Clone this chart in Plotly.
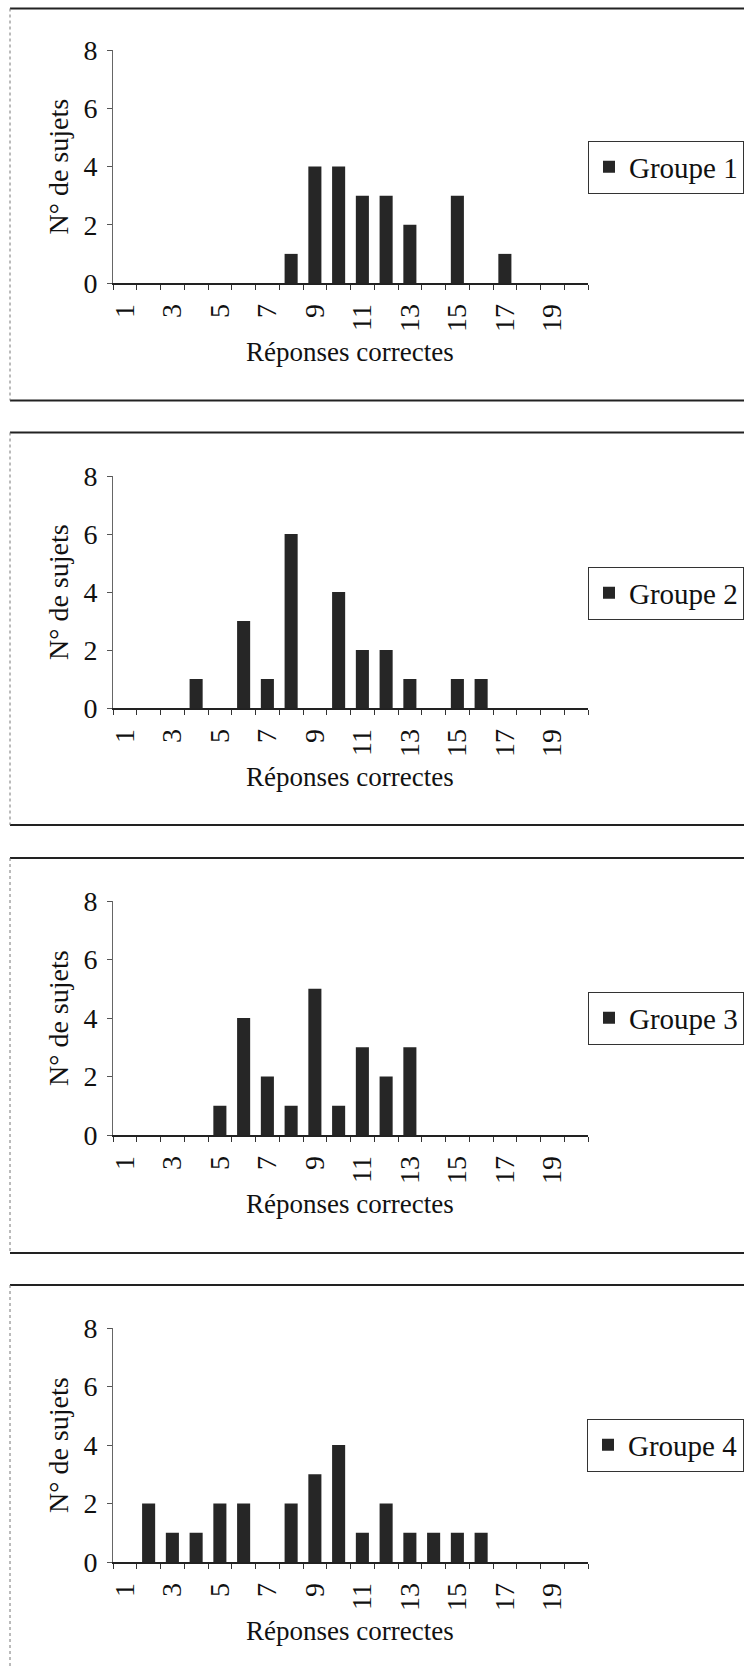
import plotly.graph_objects as go
from plotly.subplots import make_subplots

# nombre de reponses correctes (axe x)
scores = [1, 2, 3, 4, 5, 6, 7, 8, 9, 10, 11, 12, 13, 14, 15, 16, 17, 18, 19, 20]
odd_labels = [1, 3, 5, 7, 9, 11, 13, 15, 17, 19]
y_ticks = [0, 2, 4, 6, 8]

# N° de sujets par groupe
groupe1 = [0, 0, 0, 0, 0, 0, 0, 1, 4, 4, 3, 3, 2, 0, 3, 0, 1, 0, 0, 0]
groupe2 = [0, 0, 0, 1, 0, 3, 1, 6, 0, 4, 2, 2, 1, 0, 1, 1, 0, 0, 0, 0]
groupe3 = [0, 0, 0, 0, 1, 4, 2, 1, 5, 1, 3, 2, 3, 0, 0, 0, 0, 0, 0, 0]
groupe4 = [0, 2, 1, 1, 2, 2, 0, 2, 3, 4, 1, 2, 1, 1, 1, 1, 0, 0, 0, 0]
groups = [groupe1, groupe2, groupe3, groupe4]
names = ["Groupe 1", "Groupe 2", "Groupe 3", "Groupe 4"]

W, H = 744, 1668
FONT = "Liberation Serif, Times New Roman, serif"


def px(x):
    return x / W


def py(y):
    return 1 - y / H


# pixel layout of each panel: (top of plot, axis line, frame top, frame bottom)
panels = [(50, 283, 8.5, 400.5),
          (476, 708, 432.5, 825),
          (901, 1135, 858, 1253),
          (1328, 1562, 1285, 1700)]

fig = make_subplots(rows=4, cols=1)

shapes = []
annotations = []
for i, (vals, name) in enumerate(zip(groups, names)):
    row = i + 1
    y8, y0, ftop, fbot = panels[i]
    leg = "legend" if i == 0 else "legend%d" % row
    fig.add_trace(go.Bar(x=scores, y=vals, name=name, marker_color="#262626",
                         marker_line_width=0, showlegend=True, legend=leg),
                  row=row, col=1)
    fig.update_xaxes(domain=[px(113), px(588)], range=[0.5, 20.5], automargin=False,
                     tickmode="array", tickvals=odd_labels, ticks="", tickangle=-90,
                     ticklabelstandoff=8,
                     minor=dict(tickmode="array", tickvals=[s - 0.5 for s in scores] + [20.5],
                                ticks="outside", ticklen=5, tickcolor="#333"),
                     showline=True, linecolor="#222", linewidth=1.5,
                     showgrid=False, zeroline=False,
                     tickfont=dict(size=28, color="#111"), row=row, col=1)
    fig.update_yaxes(domain=[py(y0), py(y8)], range=[0, 8], tickvals=y_ticks, automargin=False,
                     ticks="outside", ticklen=5, tickcolor="#555", ticklabelstandoff=4,
                     showline=True, linecolor="#666", linewidth=1,
                     showgrid=False, zeroline=False,
                     tickfont=dict(size=28, color="#111"), row=row, col=1)
    fig.update_layout({leg: dict(x=1, y=py(y8 + 117), xanchor="right", yanchor="middle",
                                 bordercolor="#333", borderwidth=1, bgcolor="white",
                                 font=dict(size=29, color="#111", family=FONT))})

    # axis titles
    annotations.append(dict(text="N° de sujets", x=px(58), y=py((y8 + y0) / 2),
                            xref="paper", yref="paper", textangle=-90, showarrow=False,
                            xanchor="center", yanchor="middle",
                            font=dict(size=28, color="#111")))
    annotations.append(dict(text="Réponses correctes", x=px(350), y=py(y0 + 69),
                            xref="paper", yref="paper", showarrow=False,
                            xanchor="center", yanchor="middle",
                            font=dict(size=27, color="#111")))

    # chart frame
    shapes.append(dict(type="line", xref="paper", yref="paper", x0=px(10), x1=1,
                       y0=py(ftop), y1=py(ftop), line=dict(color="#222", width=2)))
    shapes.append(dict(type="line", xref="paper", yref="paper", x0=px(10), x1=1,
                       y0=py(fbot), y1=py(fbot), line=dict(color="#222", width=2)))
    shapes.append(dict(type="line", xref="paper", yref="paper", x0=px(10), x1=px(10),
                       y0=py(ftop), y1=py(min(fbot, H)), line=dict(color="#777", width=1, dash="dot")))

fig.update_layout(width=W, height=H, margin=dict(l=0, r=0, t=0, b=0),
                  paper_bgcolor="white", plot_bgcolor="white",
                  font=dict(family=FONT, color="#111"),
                  bargap=0.45, shapes=shapes, annotations=annotations)

fig.write_html("out.html", config={"displayModeBar": False},
               post_script="document.body.style.margin='0';")
